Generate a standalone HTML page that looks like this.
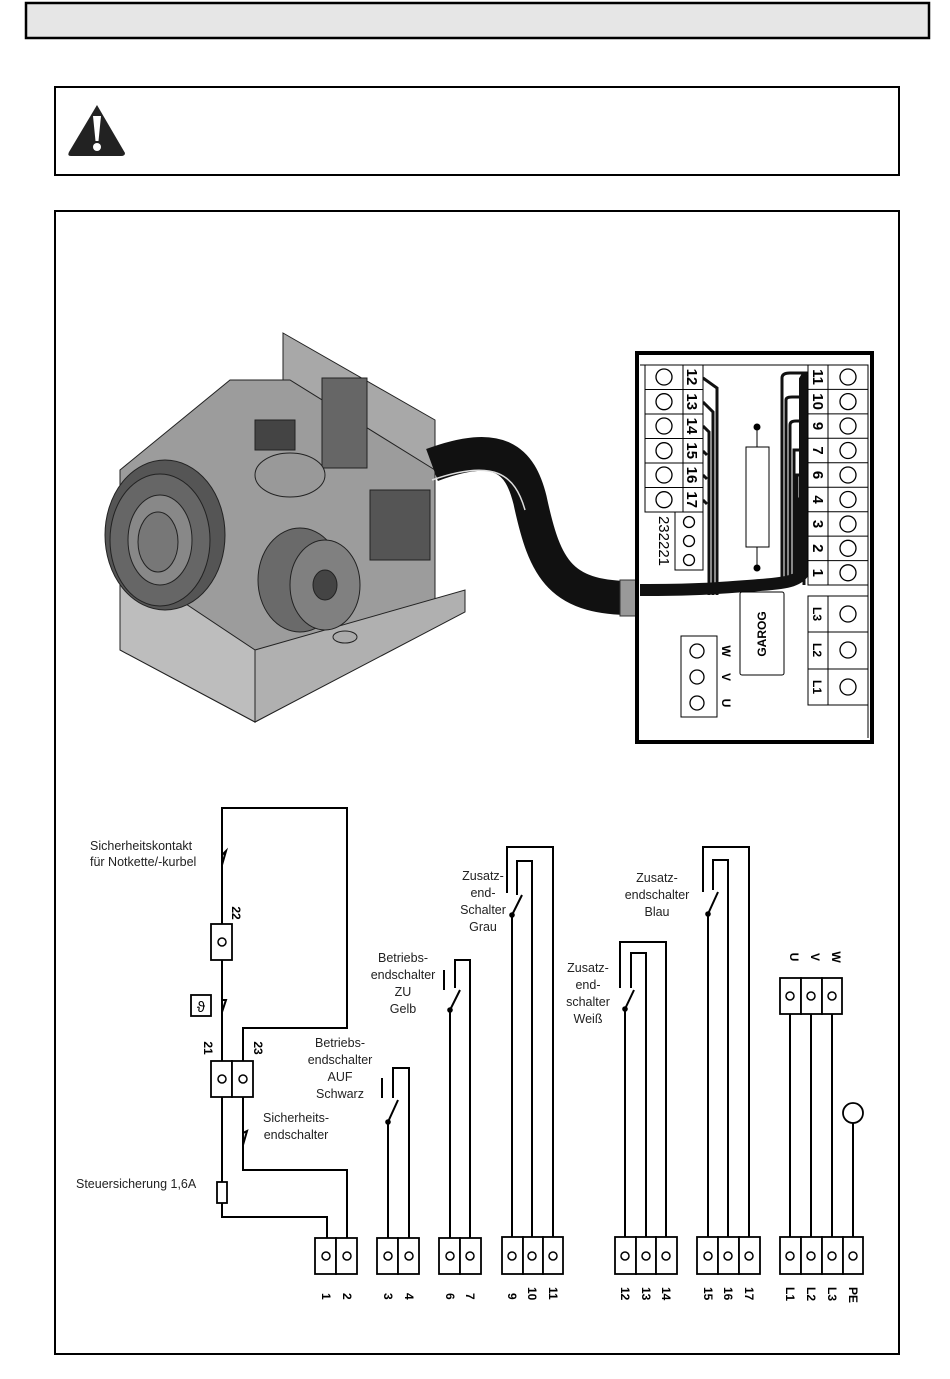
<!DOCTYPE html>
<html><head><meta charset="utf-8"><style>
html,body{margin:0;padding:0;background:#fff}
svg{display:block}
text{font-family:"Liberation Sans",sans-serif}
.t{font-size:12.5px;fill:#222}
.b{font-size:12px;font-weight:bold;fill:#000}
.p{font-size:15px;font-weight:bold;fill:#000}
</style></head><body>
<svg width="950" height="1379" viewBox="0 0 950 1379" xmlns="http://www.w3.org/2000/svg">
<!-- header bar -->
<rect x="26" y="3" width="903" height="35" fill="#e6e6e6" stroke="#000" stroke-width="2.5"/>
<!-- warning box -->
<rect x="55" y="87" width="844" height="88" fill="#fff" stroke="#000" stroke-width="2"/>
<path d="M97,105 L125,153 Q125,156 121,156 L71,156 Q67,156 69,152 Z" fill="#222"/>
<path d="M93,116 L101,116 L98.5,141 L95.5,141 Z" fill="#fff"/>
<circle cx="97" cy="147" r="4" fill="#fff"/>
<!-- main box -->
<rect x="55" y="211" width="844" height="1143" fill="#fff" stroke="#000" stroke-width="2"/>

<!-- motor approximation -->
<g stroke="#222" stroke-width="1">
<polygon points="283,333 435,420 435,600 283,520" fill="#a8a8a8"/>
<polygon points="120,470 230,380 290,380 435,470 435,600 465,600 465,610 255,722 120,650" fill="#9c9c9c"/>
<polygon points="120,560 255,650 255,722 120,650" fill="#bdbdbd"/>
<polygon points="255,650 465,590 465,612 255,722" fill="#b0b0b0"/>
<rect x="255" y="420" width="40" height="30" fill="#444"/>
<rect x="322" y="378" width="45" height="90" fill="#666"/>
<rect x="370" y="490" width="60" height="70" fill="#555"/>
<ellipse cx="290" cy="475" rx="35" ry="22" fill="#999"/>
<ellipse cx="165" cy="535" rx="60" ry="75" fill="#555"/>
<ellipse cx="160" cy="540" rx="50" ry="66" fill="#666"/>
<ellipse cx="160" cy="540" rx="32" ry="45" fill="#888"/>
<ellipse cx="158" cy="542" rx="20" ry="30" fill="#777"/>
<ellipse cx="300" cy="580" rx="42" ry="52" fill="#6a6a6a"/>
<ellipse cx="325" cy="585" rx="35" ry="45" fill="#808080"/>
<ellipse cx="325" cy="585" rx="12" ry="15" fill="#444"/>
<ellipse cx="345" cy="637" rx="12" ry="6" fill="#aaa"/>
</g>
<!-- cable -->
<path d="M432,465 C500,440 520,460 530,500 C545,570 560,600 640,598" fill="none" stroke="#111" stroke-width="34"/>
<path d="M432,480 C495,458 515,475 525,510" fill="none" stroke="#ddd" stroke-width="1.5"/>
<rect x="620" y="580" width="20" height="36" fill="#999" stroke="#333"/>

<!-- terminal panel -->
<rect x="637" y="353" width="235" height="389" fill="#fff" stroke="#000" stroke-width="4"/>
<line x1="640" y1="365" x2="868" y2="365" stroke="#000" stroke-width="1"/>
<line x1="868" y1="365" x2="868" y2="738" stroke="#000" stroke-width="1"/>
<path d="M640,590 C700,590 720,588 760,585 C790,583 800,580 805,570 L805,380 L808,375" fill="none" stroke="#111" stroke-width="12"/>
<g fill="none" stroke="#111" stroke-width="3">
<path d="M782,580 L782,378 Q782,373 790,373 L808,373"/>
<path d="M786,580 L786,400 Q786,397 792,397 L808,397"/>
<path d="M790,580 L790,425 Q790,421 796,421 L808,421"/>
<path d="M794,580 L794,450 L808,450"/>
<path d="M797,580 L797,475 L808,475"/>
<path d="M800,580 L800,499 L808,499"/>
<path d="M802,580 L802,524 L808,524"/>
<path d="M804,580 L804,548 L808,548"/>
<path d="M804,585 L804,572 L808,572"/>
<path d="M703,378 L717,388 L717,595"/>
<path d="M703,402 L713,412 L713,595"/>
<path d="M703,426 L709,432 L709,595"/>
<path d="M703,451 L707,455"/>
<path d="M703,475 L707,479"/>
<path d="M703,500 L707,504"/>
</g>
<!-- left strip -->
<g stroke="#000" stroke-width="1" fill="#fff">
<rect x="645" y="365" width="58" height="147"/>
<line x1="683" y1="365" x2="683" y2="512"/>
<line x1="645" y1="389.5" x2="703" y2="389.5"/><line x1="645" y1="414" x2="703" y2="414"/>
<line x1="645" y1="438.5" x2="703" y2="438.5"/><line x1="645" y1="463" x2="703" y2="463"/>
<line x1="645" y1="487.5" x2="703" y2="487.5"/>
<rect x="675" y="512" width="28" height="58"/>
<rect x="808" y="365" width="60" height="220"/>
<line x1="828" y1="365" x2="828" y2="585"/>
<line x1="808" y1="389.4" x2="868" y2="389.4"/><line x1="808" y1="413.9" x2="868" y2="413.9"/>
<line x1="808" y1="438.3" x2="868" y2="438.3"/><line x1="808" y1="462.8" x2="868" y2="462.8"/>
<line x1="808" y1="487.2" x2="868" y2="487.2"/><line x1="808" y1="511.7" x2="868" y2="511.7"/>
<line x1="808" y1="536.1" x2="868" y2="536.1"/><line x1="808" y1="560.6" x2="868" y2="560.6"/>
<rect x="808" y="596" width="60" height="109"/>
<line x1="828" y1="596" x2="828" y2="705"/>
<line x1="808" y1="632" x2="868" y2="632"/><line x1="808" y1="669" x2="868" y2="669"/>
<rect x="681" y="636" width="36" height="81"/>
<rect x="740" y="592" width="44" height="83" rx="2"/>
<rect x="746" y="447" width="23" height="100"/>
</g>
<line x1="757" y1="427" x2="757" y2="447" stroke="#000"/>
<line x1="757" y1="547" x2="757" y2="568" stroke="#000"/>
<circle cx="757" cy="427" r="3.5"/><circle cx="757" cy="568" r="3.5"/>
<g fill="#fff" stroke="#000" stroke-width="1.3">
<circle cx="664" cy="377" r="8"/><circle cx="664" cy="401.7" r="8"/><circle cx="664" cy="426" r="8"/>
<circle cx="664" cy="450.7" r="8"/><circle cx="664" cy="475" r="8"/><circle cx="664" cy="499.7" r="8"/>
<circle cx="689" cy="522" r="5.5"/><circle cx="689" cy="541" r="5.5"/><circle cx="689" cy="560" r="5.5"/>
<circle cx="848" cy="377" r="8"/><circle cx="848" cy="401.6" r="8"/><circle cx="848" cy="426" r="8"/>
<circle cx="848" cy="450.5" r="8"/><circle cx="848" cy="475" r="8"/><circle cx="848" cy="499.5" r="8"/>
<circle cx="848" cy="524" r="8"/><circle cx="848" cy="548.3" r="8"/><circle cx="848" cy="572.8" r="8"/>
<circle cx="848" cy="614" r="8"/><circle cx="848" cy="650" r="8"/><circle cx="848" cy="687" r="8"/>
<circle cx="697" cy="651" r="7"/><circle cx="697" cy="677" r="7"/><circle cx="697" cy="703" r="7"/>
</g>
<g class="p">
<text transform="translate(687,377) rotate(90)" text-anchor="middle">12</text>
<text transform="translate(687,401.7) rotate(90)" text-anchor="middle">13</text>
<text transform="translate(687,426) rotate(90)" text-anchor="middle">14</text>
<text transform="translate(687,450.7) rotate(90)" text-anchor="middle">15</text>
<text transform="translate(687,475) rotate(90)" text-anchor="middle">16</text>
<text transform="translate(687,499.7) rotate(90)" text-anchor="middle">17</text>
<text transform="translate(659,541) rotate(90)" text-anchor="middle" font-weight="normal" font-size="15">232221</text>
<text transform="translate(813,377) rotate(90)" text-anchor="middle">11</text>
<text transform="translate(813,401.6) rotate(90)" text-anchor="middle">10</text>
<text transform="translate(813,426) rotate(90)" text-anchor="middle">9</text>
<text transform="translate(813,450.5) rotate(90)" text-anchor="middle">7</text>
<text transform="translate(813,475) rotate(90)" text-anchor="middle">6</text>
<text transform="translate(813,499.5) rotate(90)" text-anchor="middle">4</text>
<text transform="translate(813,524) rotate(90)" text-anchor="middle">3</text>
<text transform="translate(813,548.3) rotate(90)" text-anchor="middle">2</text>
<text transform="translate(813,572.8) rotate(90)" text-anchor="middle">1</text>
</g>
<g class="b">
<text transform="translate(813,614) rotate(90)" text-anchor="middle">L3</text>
<text transform="translate(813,650) rotate(90)" text-anchor="middle">L2</text>
<text transform="translate(813,687) rotate(90)" text-anchor="middle">L1</text>
<text transform="translate(722,651) rotate(90)" text-anchor="middle">W</text>
<text transform="translate(722,677) rotate(90)" text-anchor="middle">V</text>
<text transform="translate(722,703) rotate(90)" text-anchor="middle">U</text>
<text transform="translate(766,634) rotate(-90)" text-anchor="middle">GAROG</text>
</g>

<!-- wiring diagram -->
<g fill="none" stroke="#000" stroke-width="2">
<polyline points="222,924 222,808 347,808 347,1028 243,1028 243,1061"/>
<polyline points="222,960 222,1061"/>
<polyline points="222,1097 222,1182"/>
<polyline points="222,1203 222,1217 327,1217 327,1238"/>
<polyline points="243,1097 243,1170 347,1170 347,1238"/>
<polyline points="388,1238 388,1122 398,1100"/>
<polyline points="409,1238 409,1068 393,1068 393,1098"/>
<polyline points="450,1238 450,1010 460,990"/>
<polyline points="470,1238 470,960 455,960 455,988"/>
<polyline points="512,1237 512,915 522,895"/>
<polyline points="532,1237 532,861 517,861 517,895"/>
<polyline points="553,1237 553,847 507,847 507,893"/>
<polyline points="625,1237 625,1009 634,990"/>
<polyline points="646,1237 646,953 631,953 631,988"/>
<polyline points="666,1237 666,942 620,942 620,988"/>
<polyline points="708,1237 708,914 718,892"/>
<polyline points="728,1237 728,860 713,860 713,890"/>
<polyline points="749,1237 749,847 703,847 703,892"/>
<line x1="790" y1="1014" x2="790" y2="1237"/>
<line x1="811" y1="1014" x2="811" y2="1237"/>
<line x1="832" y1="1014" x2="832" y2="1237"/>
<line x1="853" y1="1123" x2="853" y2="1237"/>
<line x1="382" y1="1078" x2="382" y2="1098"/>
<line x1="444" y1="970" x2="444" y2="990"/>
</g>
<g fill="#000">
<circle cx="388" cy="1122" r="2.8"/><circle cx="450" cy="1010" r="2.8"/><circle cx="512" cy="915" r="2.8"/>
<circle cx="625" cy="1009" r="2.8"/><circle cx="708" cy="914" r="2.8"/>
</g>
<!-- break contacts -->
<g fill="none" stroke="#000" stroke-width="2">
<path d="M222,848 L222,855 L226,851 L222,865"/>
<path d="M222,995 L222,1000 L226,1000 L222,1012"/>
<path d="M243,1128 L243,1133 L247,1131 L243,1145"/>
</g>
<g fill="#fff" stroke="#000" stroke-width="1.8">
<rect x="211" y="924" width="21" height="36"/>
<rect x="191" y="995" width="20" height="21"/>
<rect x="211" y="1061" width="21" height="36"/><rect x="232" y="1061" width="21" height="36"/>
<rect x="217" y="1182" width="10" height="21"/>
<rect x="315" y="1238" width="21" height="36"/><rect x="336" y="1238" width="21" height="36"/>
<rect x="377" y="1238" width="21" height="36"/><rect x="398" y="1238" width="21" height="36"/>
<rect x="439" y="1238" width="21" height="36"/><rect x="460" y="1238" width="21" height="36"/>
<rect x="502" y="1237" width="21" height="37"/><rect x="523" y="1237" width="20" height="37"/><rect x="543" y="1237" width="20" height="37"/>
<rect x="615" y="1237" width="21" height="37"/><rect x="636" y="1237" width="20" height="37"/><rect x="656" y="1237" width="21" height="37"/>
<rect x="697" y="1237" width="21" height="37"/><rect x="718" y="1237" width="21" height="37"/><rect x="739" y="1237" width="21" height="37"/>
<rect x="780" y="1237" width="21" height="37"/><rect x="801" y="1237" width="21" height="37"/><rect x="822" y="1237" width="21" height="37"/><rect x="843" y="1237" width="20" height="37"/>
<rect x="780" y="978" width="21" height="36"/><rect x="801" y="978" width="21" height="36"/><rect x="822" y="978" width="20" height="36"/>
<circle cx="853" cy="1113" r="10"/>
</g>
<g fill="none" stroke="#000" stroke-width="1.5">
<circle cx="222" cy="942" r="4"/><circle cx="222" cy="1079" r="4"/><circle cx="243" cy="1079" r="4"/>
<circle cx="326" cy="1256" r="4"/><circle cx="347" cy="1256" r="4"/>
<circle cx="388" cy="1256" r="4"/><circle cx="409" cy="1256" r="4"/>
<circle cx="450" cy="1256" r="4"/><circle cx="470" cy="1256" r="4"/>
<circle cx="512" cy="1256" r="4"/><circle cx="532" cy="1256" r="4"/><circle cx="553" cy="1256" r="4"/>
<circle cx="625" cy="1256" r="4"/><circle cx="646" cy="1256" r="4"/><circle cx="666" cy="1256" r="4"/>
<circle cx="708" cy="1256" r="4"/><circle cx="728" cy="1256" r="4"/><circle cx="749" cy="1256" r="4"/>
<circle cx="790" cy="1256" r="4"/><circle cx="811" cy="1256" r="4"/><circle cx="832" cy="1256" r="4"/><circle cx="853" cy="1256" r="4"/>
<circle cx="790" cy="996" r="4"/><circle cx="811" cy="996" r="4"/><circle cx="832" cy="996" r="4"/>
</g>
<text x="201" y="1012" text-anchor="middle" font-size="15" font-family="Liberation Serif,serif">ϑ</text>
<!-- labels -->
<g class="t">
<text x="90" y="850">Sicherheitskontakt</text>
<text x="90" y="866">für Notkette/-kurbel</text>
<text x="76" y="1188">Steuersicherung 1,6A</text>
<text x="296" y="1122" text-anchor="middle">Sicherheits-</text>
<text x="296" y="1139" text-anchor="middle">endschalter</text>
<text x="340" y="1047" text-anchor="middle">Betriebs-</text>
<text x="340" y="1064" text-anchor="middle">endschalter</text>
<text x="340" y="1081" text-anchor="middle">AUF</text>
<text x="340" y="1098" text-anchor="middle">Schwarz</text>
<text x="403" y="962" text-anchor="middle">Betriebs-</text>
<text x="403" y="979" text-anchor="middle">endschalter</text>
<text x="403" y="996" text-anchor="middle">ZU</text>
<text x="403" y="1013" text-anchor="middle">Gelb</text>
<text x="483" y="880" text-anchor="middle">Zusatz-</text>
<text x="483" y="897" text-anchor="middle">end-</text>
<text x="483" y="914" text-anchor="middle">Schalter</text>
<text x="483" y="931" text-anchor="middle">Grau</text>
<text x="588" y="972" text-anchor="middle">Zusatz-</text>
<text x="588" y="989" text-anchor="middle">end-</text>
<text x="588" y="1006" text-anchor="middle">schalter</text>
<text x="588" y="1023" text-anchor="middle">Weiß</text>
<text x="657" y="882" text-anchor="middle">Zusatz-</text>
<text x="657" y="899" text-anchor="middle">endschalter</text>
<text x="657" y="916" text-anchor="middle">Blau</text>
</g>
<g class="b">
<text transform="translate(232,913) rotate(90)" text-anchor="middle">22</text>
<text transform="translate(204,1048) rotate(90)" text-anchor="middle">21</text>
<text transform="translate(254,1048) rotate(90)" text-anchor="middle">23</text>
<text transform="translate(790,957) rotate(90)" text-anchor="middle">U</text>
<text transform="translate(811,957) rotate(90)" text-anchor="middle">V</text>
<text transform="translate(832,957) rotate(90)" text-anchor="middle">W</text>
<text transform="translate(322,1293) rotate(90)">1</text>
<text transform="translate(343,1293) rotate(90)">2</text>
<text transform="translate(384,1293) rotate(90)">3</text>
<text transform="translate(405,1293) rotate(90)">4</text>
<text transform="translate(446,1293) rotate(90)">6</text>
<text transform="translate(466,1293) rotate(90)">7</text>
<text transform="translate(508,1293) rotate(90)">9</text>
<text transform="translate(528,1287) rotate(90)">10</text>
<text transform="translate(549,1287) rotate(90)">11</text>
<text transform="translate(621,1287) rotate(90)">12</text>
<text transform="translate(642,1287) rotate(90)">13</text>
<text transform="translate(662,1287) rotate(90)">14</text>
<text transform="translate(704,1287) rotate(90)">15</text>
<text transform="translate(724,1287) rotate(90)">16</text>
<text transform="translate(745,1287) rotate(90)">17</text>
<text transform="translate(786,1287) rotate(90)">L1</text>
<text transform="translate(807,1287) rotate(90)">L2</text>
<text transform="translate(828,1287) rotate(90)">L3</text>
<text transform="translate(849,1287) rotate(90)">PE</text>
</g>
</svg>
</body></html>
